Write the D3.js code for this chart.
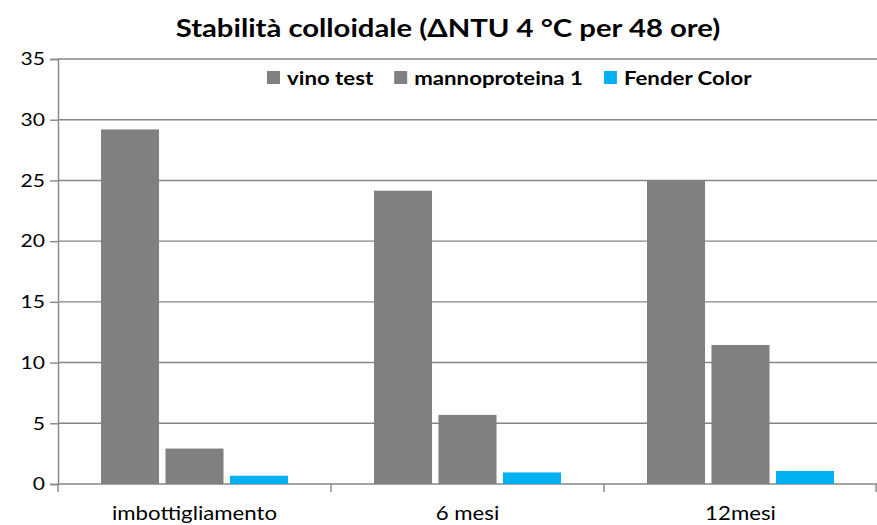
<!DOCTYPE html>
<html>
<head>
<meta charset="utf-8">
<script src="https://cdn.jsdelivr.net/npm/d3@7"></script>
<style>
  body { margin: 0; background: #fff; }
  svg { display: block; font-family: Lato, "Noto Sans", sans-serif; }
</style>
</head>
<body>
<svg id="chart" width="877" height="525"></svg>
<script>
// chart data
var categories = ['imbottigliamento', '6 mesi', '12mesi'];
var seriesNames = ['vino test', 'mannoproteina 1', 'Fender Color'];
var seriesColors = ['#808080', '#808080', '#00B0F0'];
var vinoTest = [29.2, 24.15, 25.0];
var mannoproteina = [2.92, 5.69, 11.45];
var fenderColor = [0.68, 0.95, 1.07];
var yTicks = [0, 5, 10, 15, 20, 25, 30, 35];
var titleText = 'Stabilità colloidale (ΔNTU 4 °C per 48 ore)';

var seriesValues = [vinoTest, mannoproteina, fenderColor];

var svg = d3.select('#chart');
var plotLeft = 58, plotRight = 877, plotTop = 59, plotBottom = 484;
var gridColor = '#868686';
var STRETCH = 1.17; // the original chart text is a bit wider than it is tall

// widen a text horizontally, like the stretched original
function stretch(sel) {
    sel.each(function() {
        var len = this.getComputedTextLength();
        d3.select(this)
            .attr('textLength', len * STRETCH)
            .attr('lengthAdjust', 'spacingAndGlyphs');
    });
}

var x0 = d3.scaleBand()
    .domain(categories)
    .range([plotLeft, plotRight]);

var x1 = d3.scaleBand()
    .domain(seriesNames)
    .range([0, x0.bandwidth()])
    .paddingInner(0.1)
    .paddingOuter(0.667);

var y = d3.scaleLinear()
    .domain([0, 35])
    .range([plotBottom, plotTop]);

// gridlines
svg.append('g')
    .selectAll('line')
    .data(yTicks)
    .enter().append('line')
    .attr('x1', plotLeft).attr('x2', plotRight)
    .attr('y1', function(d) { return y(d); })
    .attr('y2', function(d) { return y(d); })
    .attr('stroke', gridColor)
    .attr('stroke-width', 1.4);

// bars
var groups = svg.append('g')
    .selectAll('g')
    .data(categories)
    .enter().append('g')
    .attr('transform', function(c) { return 'translate(' + x0(c) + ',0)'; });

groups.selectAll('rect')
    .data(function(c, ci) {
        return seriesNames.map(function(s, si) {
            return { series: s, value: seriesValues[si][ci], color: seriesColors[si] };
        });
    })
    .enter().append('rect')
    .attr('x', function(d) { return x1(d.series); })
    .attr('width', x1.bandwidth())
    .attr('y', function(d) { return y(d.value); })
    .attr('height', function(d) { return y(0) - y(d.value); })
    .attr('fill', function(d) { return d.color; });

// y axis
var yAxis = svg.append('g')
    .attr('transform', 'translate(' + plotLeft + ',0)')
    .call(d3.axisLeft(y).tickValues(yTicks).tickSize(8).tickPadding(5))
    .attr('font-family', null)
    .attr('font-size', null);
yAxis.select('.domain').attr('stroke', gridColor).attr('stroke-width', 1.4);
yAxis.selectAll('.tick line').attr('stroke', gridColor).attr('stroke-width', 1.4);
yAxis.selectAll('.tick text')
    .attr('fill', '#000')
    .style('font-size', '18px')
    .call(stretch);

// x axis: labels centred, separator ticks at band edges
var xAxis = svg.append('g')
    .attr('transform', 'translate(0,' + plotBottom + ')')
    .call(d3.axisBottom(x0).tickSize(0).tickPadding(23))
    .attr('font-family', null)
    .attr('font-size', null);
xAxis.select('.domain').remove();
xAxis.selectAll('.tick text')
    .attr('fill', '#000')
    .style('font-size', '19px')
    .call(stretch);

var edges = categories.map(function(c) { return x0(c); }).concat([plotRight - 1]);
svg.append('g')
    .selectAll('line')
    .data(edges)
    .enter().append('line')
    .attr('x1', function(d) { return d; })
    .attr('x2', function(d) { return d; })
    .attr('y1', plotBottom).attr('y2', plotBottom + 8)
    .attr('stroke', gridColor)
    .attr('stroke-width', 1.4);

// title
svg.append('text')
    .attr('x', 448)
    .attr('y', 37)
    .attr('text-anchor', 'middle')
    .style('font-size', '25px')
    .style('font-weight', 'bold')
    .attr('fill', '#000')
    .text(titleText)
    .call(stretch);

// legend
var legend = svg.append('g');
var lx = 267;
seriesNames.forEach(function(name, i) {
    legend.append('rect')
        .attr('x', lx).attr('y', 71)
        .attr('width', 13).attr('height', 13)
        .attr('fill', seriesColors[i]);
    var t = legend.append('text')
        .attr('x', lx + 20)
        .attr('y', 85)
        .style('font-size', '19px')
        .style('font-weight', 'bold')
        .attr('fill', '#000')
        .text(name)
        .call(stretch);
    lx += 20 + t.node().getComputedTextLength() + 21;
});
</script>
</body>
</html>
